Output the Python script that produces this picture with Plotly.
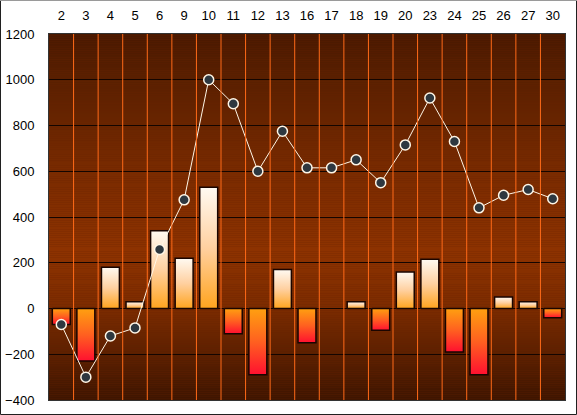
import numpy as np
import plotly.graph_objects as go

categories = ["2", "3", "4", "5", "6", "9", "10", "11", "12", "13", "16",
              "17", "18", "19", "20", "23", "24", "25", "26", "27", "30"]
bar_values = [-70, -230, 180, 30, 340, 220, 530, -110, -290, 170, -150,
              0, 30, -95, 160, 215, -190, -290, 50, 30, -40]
line_values = [-70, -300, -120, -85, 258, 475, 1000, 895, 600, 775, 615,
               615, 650, 550, 715, 920, 730, 440, 495, 520, 480]
y_ticks = [-400, -200, 0, 200, 400, 600, 800, 1000, 1200]

W, H = 577, 415
L, R, T, B = 49, 12, 34, 15
pw, ph = W - L - R, H - T - B

fig = go.Figure()

# background vertical gradient as thin bands below gridlines
stops_v = [-400, -200, 0, 250, 600, 1000, 1200]
stops_c = [(0x3e, 0x15, 0x00), (0x5c, 0x20, 0x00), (0x7c, 0x2c, 0x00),
           (0x8e, 0x33, 0x00), (0x7a, 0x2b, 0x00), (0x5a, 0x20, 0x00),
           (0x4a, 0x19, 0x00)]
shapes = []
edges = np.arange(-400, 1201, 8)
for a, b in zip(edges[:-1], edges[1:]):
    m = (a + b) / 2
    col = [int(np.interp(m, stops_v, [c[k] for c in stops_c])) for k in range(3)]
    shapes.append(dict(type="rect", xref="x", yref="y", x0=-0.5, x1=len(categories) - 0.5,
                       y0=a, y1=b, fillcolor="rgb(%d,%d,%d)" % tuple(col),
                       line=dict(width=0), layer="below"))

# orange separators between categories
for k in range(len(categories) - 1):
    shapes.append(dict(type="line", xref="x", yref="paper", x0=k + 0.5, x1=k + 0.5,
                       y0=0, y1=1, line=dict(color="#ff6a18", width=1), layer="above"))

bw = 0.73
pos_scale = [[0, "#ffa41e"], [0.5, "#ffd0a0"], [1, "#fffaf2"]]
neg_scale = [[0, "#ff1030"], [0.5, "#ff6020"], [1, "#ffa010"]]
for i, v in enumerate(bar_values):
    if v == 0:
        continue
    xs = [i - bw / 2, i + bw / 2, i + bw / 2, i - bw / 2, i - bw / 2]
    ys = [0, 0, v, v, 0]
    fig.add_trace(go.Scatter(
        x=xs, y=ys, mode="lines", fill="toself",
        line=dict(color="#1a0500", width=1.5),
        fillgradient=dict(type="vertical", colorscale=pos_scale if v > 0 else neg_scale),
        hoverinfo="skip", showlegend=False))

fig.add_trace(go.Scatter(
    x=list(range(len(categories))), y=line_values, mode="lines+markers",
    line=dict(color="#fff6e6", width=1),
    marker=dict(size=10, color="#2e3840", line=dict(color="#fff6e6", width=1.5)),
    showlegend=False))

# outer border of the image
fx0, fx1 = -L / pw, 1 + R / pw
fy0, fy1 = -B / ph, 1 + T / ph
shapes.append(dict(type="rect", xref="paper", yref="paper", x0=fx0 + 0.5 / pw, x1=fx1 - 0.5 / pw,
                   y0=fy0 + 0.5 / ph, y1=fy1 - 0.5 / ph, line=dict(color="#202020", width=1),
                   layer="above"))
shapes.append(dict(type="line", xref="paper", yref="paper", x0=fx0, x1=fx1,
                   y0=fy1 - 0.5 / ph, y1=fy1 - 0.5 / ph, line=dict(color="#9a9a9a", width=1),
                   layer="above"))

fig.update_layout(
    width=W, height=H,
    margin=dict(l=L, r=R, t=T, b=B, pad=0, autoexpand=False),
    paper_bgcolor="white", plot_bgcolor="#6a2500",
    font=dict(family="Liberation Sans, Arial, sans-serif", size=13, color="black"),
    shapes=shapes,
    hovermode=False,
    xaxis=dict(range=[-0.5, len(categories) - 0.5], side="top", automargin=False,
               tickmode="array", tickvals=list(range(len(categories))), ticktext=categories,
               showgrid=False, zeroline=False, ticks="outside", ticklen=8, tickcolor="white",
               showline=True, linecolor="#333333", mirror=True),
    yaxis=dict(range=[-400, 1200], tickmode="array", tickvals=y_ticks, automargin=False,
               showgrid=True, gridcolor="#140500", gridwidth=1,
               zeroline=True, zerolinecolor="#140500", zerolinewidth=1,
               ticks="outside", ticklen=11, tickcolor="white",
               showline=True, linecolor="#333333", mirror=True),
)

fig.write_html("out.html", config={"displayModeBar": False},
               post_script="document.body.style.margin='0';document.body.style.padding='0';")
